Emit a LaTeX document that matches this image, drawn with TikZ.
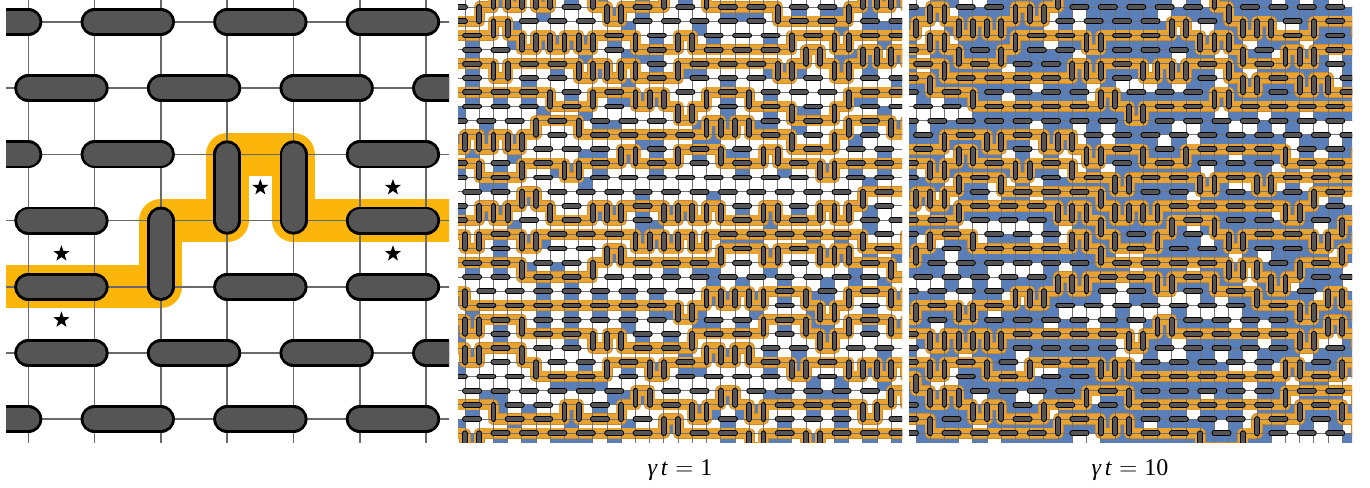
\documentclass[tikz,border=0pt]{standalone}
\usepackage{fontspec}
\setmainfont{Liberation Serif}
\usetikzlibrary{shapes.geometric}
\definecolor{dimfill}{RGB}{85,85,85}
\definecolor{goldL}{RGB}{252,181,10}
\definecolor{goldS}{RGB}{232,163,50}
\definecolor{goldE}{RGB}{205,138,40}
\definecolor{blueP}{RGB}{90,126,184}
\definecolor{gridLC}{RGB}{105,105,105}
\definecolor{gridSC}{RGB}{115,115,115}

\tikzset{
  dimOL/.style={line width=28pt, black, line cap=round},
  dimIL/.style={line width=22.4pt, dimfill, line cap=round},
  dimO/.style={line width=5.8pt, black, line cap=round},
  dimI/.style={line width=3.8pt, dimfill, line cap=round},
  gridLS/.style={gridLC, line width=1.5pt},
  gridSS/.style={gridSC, line width=0.9pt},
  strL/.style={goldL, line width=43pt, line join=round},
  strE/.style={goldE, line width=11.2pt, line join=round},
  strF/.style={goldS, line width=10pt, line join=round},
  starS/.style={star, star points=5, star point ratio=2.5, fill=black, minimum size=17pt, inner sep=0pt},
  labelS/.style={font=\fontsize{24}{28}\selectfont, anchor=base, inner sep=0pt}
}

\makeatletter
\newcount\dmC \newcount\dmR \newcount\dmB \newcount\dmK
\newif\ifdmok \newif\ifdmgo \newif\ifdmbl
\def\dmP{a}
\def\dmpH{40}
\def\dmspread{1}
\gdef\dmSP{}
\def\dmname#1#2#3{dm@#1@\dmP @\number\numexpr#2\relax @\number\numexpr#3\relax}
\def\dmmark#1#2{\expandafter\gdef\csname\dmname o{#1}{#2}\endcsname{1}}
\def\dmsetd#1#2#3{\expandafter\xdef\csname\dmname d{#1}{#2}\endcsname{#3}}
\def\dmgetd#1#2{\csname\dmname d{#1}{#2}\endcsname}
\def\dmcheck#1#2#3#4{%
  \dmoktrue
  \ifnum\numexpr#2\relax<-2 \dmokfalse\fi
  \ifnum\numexpr#2\relax>32 \dmokfalse\fi
  \ifcsname\dmname o{#1}{#2}\endcsname\dmokfalse\fi
  \ifcsname\dmname o{#3}{#4}\endcsname\dmokfalse\fi}
\def\dmtry#1{%
  \if H#1%
    \dmcheck{\dmC+1}{\dmR}{\dmC+2}{\dmR}%
    \ifdmok
      \dmsetd{\dmC}{\dmR}{R}\dmsetd{\dmC+1}{\dmR}{L}%
      \dmmark{\dmC+1}{\dmR}\dmmark{\dmC+2}{\dmR}%
      \advance\dmC by 2
      \xdef\dmSP{\dmSP -- (\number\dmC,\number\dmR)}%
    \fi
  \else
    \if U#1\dmK=-1 \else\dmK=1 \fi
    \dmcheck{\dmC}{\dmR+\dmK}{\dmC+1}{\dmR+\dmK}%
    \ifdmok
      \ifnum\dmK<0 \dmsetd{\dmC}{\dmR}{U}\dmsetd{\dmC}{\dmR-1}{D}%
      \else\dmsetd{\dmC}{\dmR}{D}\dmsetd{\dmC}{\dmR+1}{U}\fi
      \dmmark{\dmC}{\dmR+\dmK}\dmmark{\dmC+1}{\dmR+\dmK}%
      \advance\dmR by \dmK
      \xdef\dmSP{\dmSP -- (\number\dmC,\number\dmR)}%
      \advance\dmC by 1
      \xdef\dmSP{\dmSP -- (\number\dmC,\number\dmR)}%
    \fi
  \fi}
\def\dmstep{%
  \pgfmathrandominteger{\dmu}{1}{100}%
  \ifnum\dmu>\dmpH\relax
    \ifodd\dmu\relax \def\dmmv{U}\else \def\dmmv{D}\fi
  \else \def\dmmv{H}\fi
  \ifnum\numexpr\dmR-\dmB+\dmspread\relax<1 \if U\dmmv\def\dmmv{D}\fi\fi
  \ifnum\numexpr\dmB-\dmR+\dmspread\relax<1 \if D\dmmv\def\dmmv{U}\fi\fi
  \dmtry\dmmv
  \ifdmok\else\dmtry H\fi
  \ifdmok\else\dmtry U\fi
  \ifdmok\else\dmtry D\fi
  \ifdmok\else\dmgofalse\fi}
\def\dmrun{%
  \dmmark{\dmC}{\dmR}\dmmark{\dmC+1}{\dmR}%
  \dmsetd{\dmC}{\dmR}{L}%
  \xdef\dmSP{\dmSP (\number\numexpr\dmC-1\relax,\number\dmR) -- (\number\numexpr\dmC+1\relax,\number\dmR)}%
  \advance\dmC by 1
  \dmgotrue
  \loop
    \dmstep
    \ifnum\dmC>32 \dmgofalse\fi
  \ifdmgo\repeat}
\def\dmwalk#1{%
  \dmB=#1\relax \dmR=#1\relax
  \ifodd\dmR \dmC=-2 \else \dmC=-3 \fi
  \dmcheck{\dmC}{\dmR}{\dmC+1}{\dmR}%
  \ifdmok\dmrun\fi}
\def\dmflip#1#2{\dmokfalse
  \if R\dmgetd{#1}{#2}\if R\dmgetd{#1}{#2+1}\dmoktrue\fi\fi
  \if D\dmgetd{#1}{#2}\if D\dmgetd{#1+1}{#2}\dmoktrue\fi\fi}
\def\dmcorner#1#2{\dmokfalse
  \ifcsname\dmname o{#1}{#2}\endcsname\dmoktrue\fi
  \ifcsname\dmname o{#1+1}{#2}\endcsname\dmoktrue\fi
  \ifcsname\dmname o{#1}{#2+1}\endcsname\dmoktrue\fi
  \ifcsname\dmname o{#1+1}{#2+1}\endcsname\dmoktrue\fi}
% #1 prefix, #2 base rows, #3 pH, #4 spread, #5 seed, #6 pF, #7 pS, #8 pO
\def\dmpanel#1#2#3#4#5#6#7#8{%
  \def\dmP{#1}\def\dmpH{#3}\def\dmspread{#4}%
  \def\dmpF{#6}\def\dmpS{#7}\def\dmpO{#8}%
  \pgfmathsetseed{#5}%
  \foreach \rr in {-3,...,33}{\foreach \cc in {-4,...,34}{%
     \ifodd\numexpr\cc-\rr\relax \dmsetd{\cc}{\rr}{R}\else\dmsetd{\cc}{\rr}{L}\fi}}%
  \gdef\dmSP{}%
  \@for\dm@b:=#2\do{\dmwalk{\dm@b}}%
  \foreach \rr in {-1,...,31}{\foreach \cc in {-1,...,31}{%
     \pgfmathrandominteger{\dmu}{1}{100}%
     \dmblfalse
     \dmflip{\cc}{\rr}%
     \ifdmok
       \ifnum\dmu>\dmpF\relax\else\dmbltrue\fi
     \else
       \dmcorner{\cc}{\rr}%
       \ifdmok
         \ifnum\dmu>\dmpS\relax\else\dmbltrue\fi
       \else
         \ifnum\dmu>\dmpO\relax\else\dmbltrue\fi
       \fi
     \fi
     \ifdmbl\fill[blueP] (\cc-0.01,\rr-0.01) rectangle (\cc+1.01,\rr+1.01);\fi}}%
  \edef\dm@tmp{\noexpand\draw[strE] \dmSP; \noexpand\draw[strF] \dmSP;}\dm@tmp
  \foreach \rr in {-1,...,31}{\draw[gridSS] (-1,\rr) -- (32,\rr);}%
  \foreach \cc in {-1,...,31}{\draw[gridSS] (\cc,-1) -- (\cc,32);}%
  \foreach \rr in {-2,...,32}{\foreach \cc in {-3,...,33}{%
     \if R\dmgetd{\cc}{\rr}\draw[dimO] (\cc,\rr) -- ++(1,0);\draw[dimI] (\cc,\rr) -- ++(1,0);\fi
     \if D\dmgetd{\cc}{\rr}\draw[dimO] (\cc,\rr) -- ++(0,1);\draw[dimI] (\cc,\rr) -- ++(0,1);\fi}}%
}
\makeatother

\begin{document}
\begin{tikzpicture}[x=1pt,y=-1pt]
\useasboundingbox (0,0) rectangle (1370,487);
\fill[white] (0,0) rectangle (1370,487);

% ---------- left panel ----------
\begin{scope}
\clip (6,0) rectangle (449,442);
\begin{scope}[shift={(28.3,22)}, x=66.3pt, y=-66.2pt]
  \draw[strL] (-1,4) -- (2,4) -- (2,3) -- (3,3) -- (3,2) -- (4,2) -- (4,3) -- (7.5,3);
  \foreach \rr in {-1,...,7} {\draw[gridLS] (-1,\rr) -- (8,\rr);}
  \foreach \cc in {-1,...,7} {\draw[gridLS] (\cc,-1) -- (\cc,8);}
  \foreach \pa/\pb/\pc/\pd in {-1/0/0/0, 1/0/2/0, 3/0/4/0, 5/0/6/0,
      0/1/1/1, 2/1/3/1, 4/1/5/1, 6/1/7/1,
      -1/2/0/2, 1/2/2/2, 3/2/3/3, 4/2/4/3, 5/2/6/2,
      0/3/1/3, 2/3/2/4, 5/3/6/3,
      0/4/1/4, 3/4/4/4, 5/4/6/4,
      0/5/1/5, 2/5/3/5, 4/5/5/5, 6/5/7/5,
      -1/6/0/6, 1/6/2/6, 3/6/4/6, 5/6/6/6}
    {\draw[dimOL] (\pa,\pb) -- (\pc,\pd); \draw[dimIL] (\pa,\pb) -- (\pc,\pd);}
  \node[starS] (st1) at (0.5,3.5) {};
  \node[starS] (st2) at (0.5,4.5) {};
  \node[starS] (st3) at (3.5,2.5) {};
  \node[starS] (st4) at (5.5,2.5) {};
  \node[starS] (st5) at (5.5,3.5) {};
\end{scope}
\end{scope}

% ---------- middle panel ----------
\begin{scope}
\clip (458,0) rectangle (902,442);
\begin{scope}[shift={(465,7)}, x=14.21pt, y=-14.21pt]
  \dmpanel{b}{0,2,4,7,9,11,14,16,18,21,23,25,28,30}{30}{1}{4711}{70}{14}{1}
\end{scope}
\end{scope}

% ---------- right panel ----------
\begin{scope}
\clip (909,0) rectangle (1352,442);
\begin{scope}[shift={(916,7)}, x=14.21pt, y=-14.21pt]
  \dmpanel{c}{0,2,4,6,9,11,13,15,18,20,22,24,27,29}{36}{2}{8123}{95}{75}{35}
\end{scope}
\end{scope}

\node[labelS] (lab1) at (680,475) {\textit{γ\,t}\hspace{0.3em}$=$\hspace{0.3em}1};
\node[labelS] (lab2) at (1130,475) {\textit{γ\,t}\hspace{0.3em}$=$\hspace{0.3em}10};
\end{tikzpicture}
\end{document}
